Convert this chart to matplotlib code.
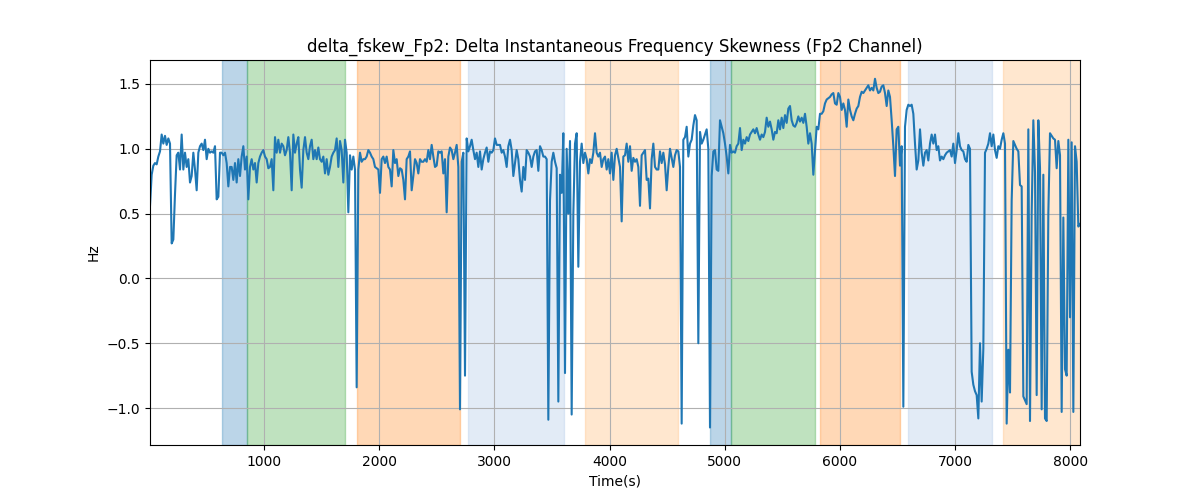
import numpy as np
import matplotlib
matplotlib.use("Agg")
import matplotlib.pyplot as plt

# ---- data ----
vals_a = [0.56, 0.80, 0.87, 0.89, 0.88, 0.94, 0.98, 1.11, 1.04, 1.10, 1.03, 1.08, 1.04, 0.27, 0.30,
          0.65, 0.95, 0.97, 0.84, 1.11, 0.84, 0.97, 0.86, 0.92, 0.74, 0.79, 0.97, 0.84, 0.68, 0.97,
          1.02, 1.04, 0.99, 1.07, 0.92, 1.00, 0.97, 0.98, 0.97, 1.02, 0.61, 0.63, 0.97, 0.97, 0.95,
          0.97, 0.89, 0.71, 0.86, 0.86, 0.76, 0.89, 0.74, 0.92, 0.79, 0.94, 1.02, 0.84, 0.94, 0.61,
          0.86, 0.92, 0.84, 0.89, 0.74, 0.89, 0.94, 0.97, 0.99, 0.94, 0.92]
vals_b = [0.85, 0.86, 0.92, 0.68, 1.09, 0.97, 1.07, 0.97, 1.04, 1.02, 0.95, 0.99, 1.09, 0.97, 0.68,
          1.11, 0.97, 1.04, 1.09, 0.84, 0.70, 0.99, 1.09, 0.97, 0.92, 1.02, 1.07, 0.92, 0.99, 0.92,
          1.01, 0.92, 0.90, 0.94, 0.81, 0.92, 0.80, 0.86, 0.94, 0.97, 0.99, 1.08, 0.86, 1.06, 0.99,
          0.74, 1.07, 0.97, 0.51, 0.95, 0.84, 0.94, 0.84, -0.84, 0.84, 0.97, 0.90, 0.92, 0.92, 0.94,
          0.99, 0.97, 0.94, 0.92, 0.86, 0.85, 0.84, 0.66, 0.92, 0.94]
vals_c = [0.89, 0.94, 0.86, 0.84, 0.71, 0.99, 0.89, 0.92, 0.79, 0.85, 0.84, 0.76, 0.61, 0.92, 0.94,
          0.98, 0.68, 0.79, 0.92, 0.89, 0.81, 0.92, 0.90, 0.90, 0.92, 0.90, 0.99, 0.92, 1.03, 0.94,
          0.86, 0.87, 0.98, 0.97, 0.98, 0.81, 0.92, 0.51, 0.94, 1.01, 0.99, 0.92, 0.97, 1.03, 0.86,
          -1.01, 0.90, 0.97, -0.75, 1.08, 0.98, 1.02, 1.07, 0.99, 0.92, 0.97, 0.86, 0.98, 0.84, 0.92,
          0.97, 1.01, 0.90, 0.98, 0.97, 0.99, 1.08, 1.03, 1.03]
vals_d = [1.03, 0.97, 0.99, 0.94, 0.86, 1.02, 1.07, 0.99, 0.79, 0.89, 0.99, 0.92, 0.76, 0.67, 0.86,
          0.76, 0.99, 0.97, 0.94, 0.86, 0.94, 0.98, 0.99, 0.83, 1.02, 0.99, 0.94, 0.94, 0.92, -1.09,
          0.60, 0.90, 0.97, 0.90, 0.85, -0.95, 0.80, 0.66, 1.12, -0.73, 1.00, 0.50, 1.06, -1.05, 0.50,
          1.04, 1.12, 0.09, 0.90, 1.04, 0.89, 0.97, 0.92, 0.81, 0.92, 0.89, 0.97, 1.12, 0.97, 0.94,
          0.97, 0.86, 0.92, 0.94, 0.84, 0.92, 0.81, 0.97, 0.76]
vals_e = [0.95, 1.00, 0.93, 0.86, 0.44, 0.94, 0.95, 1.04, 0.90, 1.02, 0.83, 0.93, 0.90, 0.92, 0.86,
          0.56, 0.95, 0.97, 0.99, 0.76, 0.77, 0.54, 0.92, 1.04, 0.86, 0.84, 0.84, 0.98, 0.89, 0.97,
          0.88, 0.68, 0.86, 1.00, 0.93, 0.86, 0.95, 0.99, 0.98, 0.86, -1.12, 1.07, 1.09, 1.17, 0.94,
          1.04, 1.07, 1.18, 1.26, 1.22, -0.50, 1.13, 1.04, 1.07, 1.11, 1.15, 1.00, -1.15, 0.79, 0.98,
          0.99, 0.84, 0.83, 1.22, 1.17, 1.12, 1.04, 0.94, 0.81]
vals_f = [1.03, 0.97, 0.98, 0.97, 1.02, 1.04, 1.16, 0.99, 1.07, 1.04, 1.09, 1.06, 1.11, 1.13, 1.15,
          1.12, 1.16, 1.11, 1.07, 1.11, 1.09, 1.13, 1.24, 1.17, 1.21, 1.15, 1.07, 1.13, 1.12, 1.22,
          1.15, 1.24, 1.16, 1.26, 1.20, 1.31, 1.33, 1.22, 1.18, 1.17, 1.20, 1.25, 1.21, 1.24, 1.20,
          1.27, 1.17, 1.04, 1.12, 1.04, 0.80, 0.99, 1.17, 1.15, 1.27, 1.27, 1.29, 1.35, 1.38, 1.39,
          1.40, 1.42, 1.43, 1.35, 1.34, 1.43, 1.40, 1.30, 1.35]
vals_g = [1.30, 1.17, 1.38, 1.30, 1.25, 1.22, 1.27, 1.31, 1.33, 1.40, 1.44, 1.43, 1.45, 1.47, 1.49,
          1.45, 1.47, 1.45, 1.54, 1.47, 1.43, 1.44, 1.48, 1.49, 1.43, 1.33, 1.45, 1.40, 1.22, 1.02,
          0.79, 1.15, 1.17, 0.87, 1.02, -0.99, 1.17, 1.30, 1.34, 1.33, 1.34, 1.27, 1.04, 0.84, 0.91,
          1.15, 0.97, 0.87, 0.97, 0.99, 0.91, 1.04, 1.11, 1.04, 1.11, 0.99, 1.02, 0.91, 0.94, 0.92,
          0.95, 0.97, 0.98, 0.99, 0.94, 1.04, 0.89, 0.99, 1.12]
vals_h = [1.02, 0.99, 0.98, 0.92, 0.90, 1.03, 1.00, -0.72, -0.82, -0.87, -0.90, -1.08, -0.50, -0.95, -0.54,
          0.97, 1.00, 1.04, 1.12, 1.02, 1.11, 0.99, 0.93, 1.02, 1.00, 1.07, 1.12, 1.04, -1.12, -0.55,
          -0.88, 0.60, 1.06, 1.03, 1.00, 0.98, 0.72, 0.71, -0.91, -0.94, -0.97, 1.15, -1.10, 0.50, 1.22,
          0.82, -0.90, 1.22, 0.85, -1.01, 0.80, -1.08, -1.10, 0.50, 1.12, 1.10, 1.08, 1.07, 0.85, 1.06,
          0.95, -1.03, 0.47, -0.70, -0.75, 1.07, -0.30, 1.05, -1.03, 1.02, 0.90, 0.40, 0.42]

t_start, t_end = 10, 8085

# shaded intervals: (start, end, colour, alpha)
span_starts = [635, 852, 1808, 2772, 3789, 4875, 5057, 5830, 6595, 7420]
span_ends   = [852, 1704, 2703, 3606, 4597, 5057, 5787, 6526, 7325, 8090]
span_colors = ['#1f77b4', '#2ca02c', '#ff7f0e', '#aec7e8', '#ffbb78',
               '#1f77b4', '#2ca02c', '#ff7f0e', '#aec7e8', '#ffbb78']
span_alphas = [0.3, 0.3, 0.3, 0.35, 0.35, 0.3, 0.3, 0.3, 0.35, 0.35]

values = np.array(vals_a + vals_b + vals_c + vals_d + vals_e + vals_f + vals_g + vals_h)
times = np.linspace(t_start, t_end, len(values))

fig, ax = plt.subplots(figsize=(12, 5), dpi=100)
for s, e, c, a in zip(span_starts, span_ends, span_colors, span_alphas):
    ax.axvspan(s, e, color=c, alpha=a)
ax.plot(times, values, color='#1f77b4', linewidth=1.5)
ax.set_xlim(t_start, t_end)
ax.set_ylim(-1.285, 1.685)
ax.grid(True)
ax.set_title("delta_fskew_Fp2: Delta Instantaneous Frequency Skewness (Fp2 Channel)")
ax.set_xlabel("Time(s)")
ax.set_ylabel("Hz")
fig.savefig("out.png", dpi=100)
